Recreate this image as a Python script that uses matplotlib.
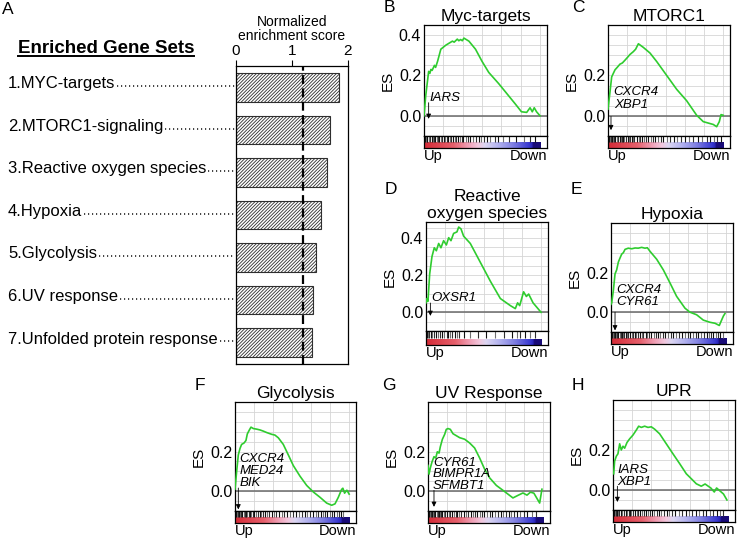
import numpy as np
import matplotlib
matplotlib.use("Agg")
import matplotlib.pyplot as plt
from matplotlib.colors import LinearSegmentedColormap
from matplotlib.lines import Line2D
from matplotlib.transforms import blended_transform_factory

plt.rcParams["font.family"] = ["Liberation Sans", "DejaVu Sans"]
plt.rcParams["hatch.linewidth"] = 0.6

W, H = 738, 538

# ---- panel A data ----
gene_sets = ["1.MYC-targets", "2.MTORC1-signaling", "3.Reactive oxygen species",
             "4.Hypoxia", "5.Glycolysis", "6.UV response", "7.Unfolded protein response"]
nes = [1.84, 1.68, 1.63, 1.51, 1.42, 1.37, 1.35]
nes_cutoff = 1.2

# ---- running enrichment scores (x = % of ranked list) ----
myc_x = [0, 1.5, 4, 5, 6, 7, 9, 10, 11.7, 14.5, 18.8, 24.5, 26, 28.7, 30, 31.6, 33, 34.4,
         38.7, 44.4, 50, 55.8, 64.3, 71.4, 78.5, 84, 88.5, 91.4, 93.3, 95, 97, 100]
myc_es = [0, 0.1, 0.22, 0.21, 0.23, 0.225, 0.25, 0.24, 0.27, 0.33, 0.35, 0.37, 0.365, 0.38, 0.372,
          0.378, 0.372, 0.385, 0.37, 0.33, 0.27, 0.215, 0.16, 0.11, 0.06, 0.02, 0.017, 0.04,
          0.02, 0.04, 0.02, 0.0]
myc_hits = [0.5, 1.5, 2.5, 3, 4, 5.5, 6.5, 7.5, 8.5, 9.5, 11, 12, 13, 14.5, 15.5, 17, 18, 19.5,
            21, 22, 23.5, 25, 26.5, 28, 29, 31, 32.5, 34, 36, 38, 40, 42.5, 45, 47, 49, 52, 54,
            57, 61, 64, 68, 73, 79, 86, 91, 96]

mtorc1_x = [0, 1.7, 3.2, 6.1, 8, 10.4, 12.5, 14.8, 17, 19.1, 22, 24, 26.4, 30.7, 36.5, 42.3, 51,
            59.7, 68.3, 77, 82.8, 87.2, 91.5, 94.4, 96.7, 98.2, 100]
mtorc1_es = [0.033, 0.117, 0.193, 0.228, 0.24, 0.256, 0.262, 0.276, 0.29, 0.304, 0.318, 0.33,
             0.357, 0.339, 0.311, 0.269, 0.2, 0.131, 0.075, 0.003, -0.029, -0.036, -0.043,
             -0.054, -0.029, 0.006, 0.003]
mtorc1_hits = [0.5, 1.5, 2.5, 3.5, 4.5, 5.5, 6.5, 7.5, 8.5, 10, 11, 12, 13, 14, 15.5, 17, 18, 19,
               20.5, 22, 23, 25, 26.5, 28, 29.5, 31, 33, 35, 37, 39, 41, 43.5, 46, 48, 51, 54,
               57, 60, 63, 67, 70, 74, 78, 82, 86, 89, 92, 95, 98]

ros_x = [0, 0.9, 1.7, 3.2, 5.2, 7.2, 9, 11, 13, 15.3, 17.7, 19.7, 21.7, 24, 26.9, 28.4, 30.4,
         32.7, 38.5, 47.2, 55.9, 64.6, 73.3, 77.6, 79.6, 81.4, 84.8, 87.2, 89.2, 93, 100]
ros_es = [0.051, 0.074, 0.059, 0.206, 0.299, 0.346, 0.33, 0.369, 0.346, 0.384, 0.361, 0.4, 0.384,
          0.423, 0.431, 0.457, 0.447, 0.408, 0.369, 0.268, 0.167, 0.074, 0.036, 0.02, 0.051,
          0.036, 0.11, 0.085, 0.098, 0.051, 0.0]
ros_hits = [0.5, 1.5, 3, 4, 5.5, 7, 9, 10.5, 12, 14, 16, 18, 19.5, 21, 23, 25, 27, 29, 33, 38,
            45, 52, 60, 68, 75, 79, 82, 86, 90, 95]

hyp_x = [0, 0.6, 2, 3.5, 4.9, 6.4, 7.8, 9.3, 10.7, 12.2, 15, 18, 20.9, 23.7, 26.6, 29.5, 31.6,
         33.9, 39.7, 45.5, 51.3, 57, 64.3, 68.6, 74.4, 80.2, 86, 90.4, 94.1, 96.1, 97.6, 99]
hyp_es = [0.04, 0.047, 0.107, 0.193, 0.213, 0.253, 0.273, 0.293, 0.3, 0.317, 0.323, 0.32, 0.324,
          0.323, 0.327, 0.323, 0.325, 0.307, 0.267, 0.213, 0.147, 0.08, 0.02, 0.0, -0.013,
          -0.04, -0.051, -0.056, -0.067, -0.04, -0.02, -0.007]
hyp_hits = [0.5, 1.5, 2.5, 3.5, 4.5, 5.5, 6.5, 7.5, 8.5, 9.5, 10.5, 11.5, 13, 14, 15, 16.5, 18,
            19, 20.5, 22, 23.5, 25, 26.5, 28, 30, 31.5, 33, 35, 37, 39, 41, 43, 45, 47, 49.5,
            52, 54, 56.5, 59, 61.5, 64, 66.5, 69, 71, 73.5, 76, 78, 80.5, 83, 85, 87, 89, 91,
            93, 95, 97]

gly_x = [0, 1.5, 2.9, 4.4, 5.8, 7.9, 9.6, 10.8, 12.6, 14, 16.1, 19, 21.9, 24.8, 27.7, 32.1, 35,
         38, 42.3, 46.7, 51.1, 56.9, 62.8, 68.6, 74.5, 80.3, 84.7, 87.6, 90.5, 93.4, 94.5, 96,
         98, 100]
gly_es = [0.01, 0.103, 0.183, 0.216, 0.236, 0.243, 0.256, 0.289, 0.309, 0.323, 0.316, 0.313,
          0.309, 0.303, 0.296, 0.287, 0.283, 0.269, 0.236, 0.183, 0.129, 0.076, 0.029, -0.004,
          -0.031, -0.06, -0.071, -0.064, -0.031, 0.009, 0.015, -0.01, 0.005, -0.015]
gly_hits = [0.5, 1.5, 2.5, 3.5, 4.5, 5.5, 6.5, 7.5, 8.5, 9.5, 10.5, 12, 13, 14, 15.5, 17, 18.5,
            20, 21.5, 23, 24.5, 26, 28, 30, 32, 34, 36, 38.5, 41, 43, 45.5, 48, 50.5, 53, 56,
            58.5, 61, 63.5, 66, 68.5, 71, 73, 75, 77, 79, 81, 83, 85, 87, 89, 91, 93, 95]

uv_x = [0, 0.9, 2, 3.5, 5.2, 6.7, 8.1, 9.6, 10.7, 12.5, 14.5, 15.9, 17.4, 19.4, 21.7, 24.6, 27.5,
        31.9, 36.2, 40.5, 44.9, 49.2, 53.6, 59.4, 65.2, 69.5, 73.8, 78.2, 82.5, 86, 89, 92, 94,
        97, 99]
uv_es = [0.13, 0.086, 0.117, 0.148, 0.174, 0.167, 0.199, 0.192, 0.224, 0.262, 0.287, 0.312,
         0.316, 0.312, 0.29, 0.28, 0.27, 0.262, 0.243, 0.218, 0.167, 0.111, 0.067, 0.029, 0.004,
         -0.015, -0.034, -0.021, -0.009, -0.02, -0.005, -0.01, -0.03, -0.06, 0.01]
uv_hits = [0.5, 1.5, 2.5, 3.5, 4.5, 5.5, 6.5, 7.5, 8.5, 9.5, 10.5, 11.5, 12.5, 14, 15, 16.5, 18,
           19.5, 21, 22.5, 24, 25.5, 27, 29, 31, 33, 35, 37, 39, 41, 43, 45, 47, 49, 51, 53.5,
           56, 58, 60.5, 63, 65, 67.5, 70, 72, 74.5, 77, 80, 83, 86, 90, 94]

upr_x = [0.6, 1.4, 2.9, 4.3, 5.8, 7.2, 8.7, 10.1, 12.2, 14.5, 17.4, 20.3, 22.3, 24.6, 27.5, 30.4,
         33.3, 36.2, 40.5, 46.3, 52.1, 58, 63.7, 68.1, 72.4, 76.7, 80, 85, 88, 90, 93, 96, 99]
upr_es = [0.081, 0.144, 0.169, 0.181, 0.231, 0.2, 0.219, 0.209, 0.238, 0.256, 0.275, 0.3, 0.319,
          0.313, 0.319, 0.313, 0.316, 0.304, 0.281, 0.231, 0.181, 0.131, 0.081, 0.056, 0.031,
          0.019, 0.03, 0.01, -0.01, 0.01, -0.005, -0.02, -0.05]
upr_hits = [0.5, 1.5, 2.5, 3.5, 4.5, 5.5, 7, 8, 9.5, 11, 12, 13.5, 15, 16, 17.5, 19, 20.5, 22,
            23.5, 25, 27, 28.5, 30, 32, 34, 36, 38, 40, 42, 44.5, 47, 49, 51.5, 54, 57, 60,
            63, 66, 69, 72, 75, 78, 81, 84, 87, 90, 93, 96]

# ---- layout (pixel boxes: left, top, right, strip top, bottom) ----
panels = [
    dict(letter="B", letter_xy=(389, 8), title="Myc-targets", x=myc_x, es=myc_es, hits=myc_hits,
         genes=["IARS"], gene_y=[0.09], gene_x=4.5, arrow=(4, 0.065),
         box=(424, 25, 547, 136, 148), ylim=(-0.019, 0.408), yticks=[0, 0.2, 0.4]),
    dict(letter="C", letter_xy=(578, 8), title="MTORC1", x=mtorc1_x, es=mtorc1_es, hits=mtorc1_hits,
         genes=["CXCR4", "XBP1"], gene_y=[0.117, 0.054], gene_x=5, arrow=(2.6, -0.003),
         box=(608, 25, 730, 136, 148), ylim=(-0.075, 0.3875), yticks=[0, 0.2]),
    dict(letter="D", letter_xy=(391, 190), title="Reactive\noxygen species", x=ros_x, es=ros_es,
         hits=ros_hits, genes=["OXSR1"], gene_y=[0.079], gene_x=4.3, arrow=(3.8, 0.05),
         box=(426, 222, 548, 331, 345), ylim=(-0.023, 0.484), yticks=[0, 0.2, 0.4]),
    dict(letter="E", letter_xy=(576, 190), title="Hypoxia", x=hyp_x, es=hyp_es, hits=hyp_hits,
         genes=["CXCR4", "CYR61"], gene_y=[0.113, 0.053], gene_x=4.3, arrow=(3.5, 0.0),
         box=(611, 223, 733, 332, 344), ylim=(-0.096, 0.34), yticks=[0, 0.2]),
    dict(letter="F", letter_xy=(200, 385), title="Glycolysis", x=gly_x, es=gly_es, hits=gly_hits,
         genes=["CXCR4", "MED24", "BIK"], gene_y=[0.163, 0.103, 0.043], gene_x=3.8, arrow=(2.9, 0.016),
         box=(235, 402, 356, 511, 523), ylim=(-0.096, 0.34), yticks=[0, 0.2]),
    dict(letter="G", letter_xy=(389, 385), title="UV Response", x=uv_x, es=uv_es, hits=uv_hits,
         genes=["CYR61", "BIMPR1A", "SFMBT1"], gene_y=[0.142, 0.086, 0.026], gene_x=4.3,
         arrow=(5.2, 0.004), box=(428, 402, 550, 511, 523), ylim=(-0.083, 0.328), yticks=[0, 0.2]),
    dict(letter="H", letter_xy=(578, 385), title="UPR", x=upr_x, es=upr_es, hits=upr_hits,
         genes=["IARS", "XBP1"], gene_y=[0.10, 0.042], gene_x=3.8, arrow=(3.8, 0.019),
         box=(613, 400, 735, 510, 522), ylim=(-0.064, 0.351), yticks=[0, 0.2]),
]

rank_cmap = LinearSegmentedColormap.from_list("rank", [
    (0.0, "#d42a36"), (0.25, "#e6606c"), (0.38, "#f0a0b6"), (0.46, "#f2c6dc"),
    (0.52, "#dcd6f2"), (0.64, "#b0b0ee"), (0.76, "#8080e2"), (0.9, "#3838d0"),
    (0.925, "#2a24b8"), (0.935, "#180a78"), (1.0, "#180a78")])

fig = plt.figure(figsize=(W / 100, H / 100), dpi=100)


def fx(px):
    return px / W


def fy(py):
    return 1 - py / H


# ---------------- panel A ----------------
fig.text(fx(8), fy(10), "A", fontsize=12.5, ha="center", va="center")
axA = fig.add_axes([fx(236), fy(364), fx(348) - fx(236), fy(66) - fy(364)])
ypos = np.arange(len(gene_sets))
axA.barh(ypos, nes, height=0.67, color="white", edgecolor="#2e2e2e", hatch="//////////", lw=0.8)
axA.axvline(nes_cutoff, color="black", ls=(0, (4, 2)), lw=1.6)
axA.set_xlim(0, 2)
axA.set_ylim(len(gene_sets) - 0.5, -0.5)
axA.set_yticks([])
axA.xaxis.tick_top()
axA.set_xticks([0, 1, 2])
axA.tick_params(axis="x", labelsize=11, length=4, pad=2)
axA.xaxis.set_label_position("top")
axA.set_xlabel("Normalized\nenrichment score", fontsize=10, labelpad=3, linespacing=1.0)
for sp in axA.spines.values():
    sp.set_linewidth(0.9)

title_A = fig.text(fx(106), fy(53), "Enriched Gene Sets", fontsize=13.5, fontweight="bold",
                   ha="center", va="baseline")
trans_lab = blended_transform_factory(fig.transFigure, axA.transData)
label_texts = []
for i, name in enumerate(gene_sets):
    t = fig.text(fx(8), i + 0.02, name, fontsize=12, ha="left", va="baseline", transform=trans_lab)
    label_texts.append(t)

# ---------------- GSEA panels ----------------
grad = np.linspace(0, 1, 256).reshape(1, -1)
for p in panels:
    l, t, r, s, b = p["box"]
    ax = fig.add_axes([fx(l), fy(s), fx(r) - fx(l), fy(t) - fy(s)])
    st = fig.add_axes([fx(l), fy(b), fx(r) - fx(l), fy(s) - fy(b)])
    ax.set_xlim(0, 106)
    ax.set_ylim(*p["ylim"])
    ax.set_xticks(np.arange(1, 7) * 100 / 6)
    ax.set_xticklabels([])
    ax.set_yticks(p["yticks"])
    ax.set_yticklabels([f"{v:.1f}" for v in p["yticks"]])
    ax.set_yticks(np.arange(-0.1, 0.5, 0.05), minor=True)
    ax.tick_params(which="both", length=0, labelsize=11.5, pad=2)
    ax.grid(True, which="both", color="#d6d6d6", lw=0.6)
    ax.set_axisbelow(True)
    ax.axhline(0, color="#6a6a6a", lw=1.1, zorder=2)
    ax.plot(p["x"], p["es"], color="#2fcc2f", lw=1.2, zorder=3)
    ax.set_title(p["title"], fontsize=12.5, pad=3, linespacing=1.15)
    ax.set_ylabel("ES", fontsize=11)
    ax.yaxis.set_label_coords(-0.24, 0.5)
    for g, gy in zip(p["genes"], p["gene_y"]):
        ax.text(p["gene_x"], gy, g, fontsize=9.5, style="italic", ha="left", va="center", zorder=4)
    ax_x, ay = p["arrow"]
    ax.annotate("", xy=(ax_x, p["ylim"][0] + 0.004), xytext=(ax_x, ay),
                arrowprops=dict(arrowstyle="-|>", color="black", lw=0.6,
                                mutation_scale=7, shrinkA=0, shrinkB=0), zorder=4)
    for sp in ax.spines.values():
        sp.set_linewidth(0.9)

    st.set_xlim(0, 106)
    st.set_ylim(0, 1)
    st.imshow(grad, aspect="auto", cmap=rank_cmap, extent=(0, 100, 0, 0.42))
    shades = ["#101010", "#707070", "#303030"]
    st.vlines(p["hits"], 0.47, 1.0, colors=[shades[k % 3] for k in range(len(p["hits"]))], lw=0.8)
    st.set_xticks([])
    st.set_yticks([])
    for sp in st.spines.values():
        sp.set_linewidth(0.9)

    fig.text(fx(l), fy(b + 1), "Up", fontsize=10.5, ha="left", va="top")
    fig.text(fx(r), fy(b + 1), "Down", fontsize=10.5, ha="right", va="top")
    fig.text(fx(p["letter_xy"][0]), fy(p["letter_xy"][1]), p["letter"], fontsize=12.5,
             ha="center", va="center")

# leaders and underline need text extents
fig.canvas.draw()
rend = fig.canvas.get_renderer()
for i, t in enumerate(label_texts):
    bb = t.get_window_extent(rend)
    fig.add_artist(Line2D([(bb.x1 + 2) / W, fx(235)], [i - 0.03, i - 0.03], transform=trans_lab,
                          color="#222222", lw=1.2, ls=(0, (0.7, 1.7))))
bb = title_A.get_window_extent(rend)
fig.add_artist(Line2D([bb.x0 / W, bb.x1 / W], [fy(56), fy(56)], transform=fig.transFigure,
                      color="black", lw=1.4))

fig.savefig("out.png", dpi=100)
